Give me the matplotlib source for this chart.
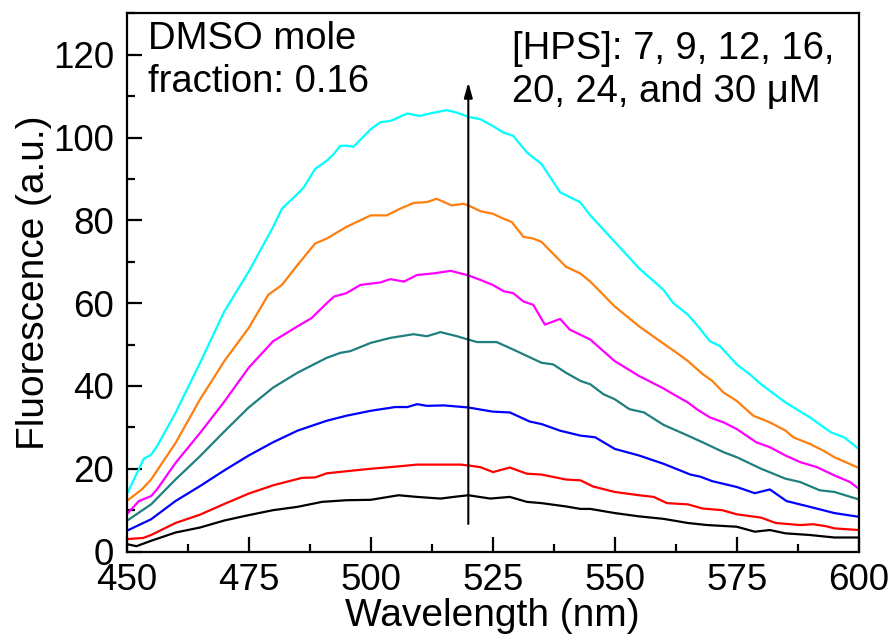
import numpy as np
import matplotlib
matplotlib.use("Agg")
import matplotlib.pyplot as plt
from matplotlib.ticker import MultipleLocator

plt.rcParams['font.family'] = ['Liberation Sans', 'DejaVu Sans']

# Emission spectra, one pair of lists per [HPS]
wl_7 = [450, 452, 455, 460, 465, 470, 475, 480, 485, 490, 495, 500, 502.6, 505.7, 509.5, 514.3, 517.7, 520,
        524.5, 528.5, 532, 535, 540, 543, 545, 550, 555, 560, 565, 569, 575, 578.7, 581.8, 585, 590, 595, 600]
f_7 = [1.8, 1.3, 2.6, 4.6, 5.8, 7.5, 8.8, 10.0, 10.8, 12.0, 12.4, 12.5, 13.0, 13.6, 13.2, 12.8, 13.3, 13.6,
       12.8, 13.2, 12.0, 11.7, 10.9, 10.3, 10.3, 9.3, 8.5, 7.9, 6.9, 6.4, 6.0, 4.8, 5.2, 4.4, 4.0, 3.4, 3.4]

wl_9 = [450, 453.4, 455, 460, 465, 470, 475, 480, 485.9, 488.6, 491, 495, 500, 505, 509.5, 515, 518.4, 520,
        522.4, 525.1, 528.5, 532, 535, 540, 543, 545.6, 550, 555, 558, 560.7, 565, 568, 572, 575, 580, 583,
        588, 590.7, 593.4, 595, 600]
f_9 = [3.0, 3.3, 4.0, 6.9, 8.9, 11.5, 14.0, 16.0, 17.8, 17.9, 18.9, 19.4, 20.0, 20.5, 21.0, 21.0, 21.0, 20.8,
       20.4, 19.2, 20.3, 18.8, 18.6, 17.4, 17.2, 15.7, 14.4, 13.6, 13.2, 11.7, 11.4, 10.4, 10.0, 9.0, 8.2, 6.9,
       6.4, 6.6, 6.1, 5.6, 5.2]

wl_12 = [450, 455, 460, 465, 470, 475, 480, 485, 491, 495, 500, 505, 507.5, 509.5, 511.5, 515, 520, 525,
         528.5, 532.6, 535, 538.8, 543, 546, 550, 555, 560, 563.4, 565.5, 567.5, 570, 575, 578.7, 581.8,
         585.2, 590, 595, 600]
f_12 = [5.0, 7.8, 12.2, 15.8, 19.6, 23.2, 26.4, 29.2, 31.6, 32.8, 34.0, 34.9, 34.9, 35.6, 35.2, 35.3, 34.8, 33.8,
        33.6, 31.4, 30.8, 29.2, 28.0, 27.6, 24.8, 23.2, 21.2, 19.6, 18.6, 18.1, 17.0, 15.6, 14.1, 15.0,
        12.2, 10.8, 9.3, 8.4]

wl_16 = [450, 455, 460, 465, 470, 475, 480, 485, 491, 493.8, 495.8, 500, 504, 508.8, 511.5, 514.3, 517.7, 520,
         521.8, 525.8, 529.2, 535, 537.4, 540, 543, 545, 547.7, 550, 553, 556, 560, 562.7, 565, 568, 572.3,
         575, 580, 585, 588, 592, 595, 600]
f_16 = [7.4, 11.4, 17.4, 23.0, 29.0, 34.8, 39.6, 43.2, 46.8, 48.0, 48.4, 50.4, 51.6, 52.5, 52.0, 53.0, 52.0, 51.2,
        50.6, 50.6, 48.8, 45.6, 45.2, 43.2, 41.2, 40.4, 38.0, 36.8, 34.4, 33.6, 30.6, 29.2, 28.0, 26.4, 24.0,
        22.8, 20.0, 17.6, 16.8, 14.8, 14.4, 12.6]

wl_20 = [450, 452.5, 455, 456.2, 460, 465, 470, 475, 480, 485, 487.9, 491, 492.5, 495, 497.9, 502, 504, 506.8,
         509.5, 513, 516.4, 520, 522.5, 525, 527.2, 529.2, 531.3, 533.3, 535.7, 538.8, 540.8, 545, 550, 555,
         560, 562, 565, 566.8, 569.5, 572.3, 575, 579, 581.8, 585, 588, 591.4, 595, 598.2, 600]
f_20 = [9.0, 12.2, 13.4, 15.0, 21.4, 28.6, 36.2, 44.4, 50.8, 54.4, 56.4, 60.0, 61.6, 62.4, 64.4, 65.0, 65.8, 65.2,
        66.8, 67.2, 67.8, 66.7, 65.6, 64.4, 62.9, 62.4, 60.4, 59.6, 54.8, 56.2, 53.6, 51.2, 46.0, 42.4,
        39.4, 38.0, 36.0, 34.4, 32.4, 31.2, 29.6, 26.4, 25.2, 23.2, 21.6, 20.4, 18.4, 16.8, 15.2]

wl_24 = [450, 453.1, 455, 460, 465, 470, 475, 479, 481.8, 485, 488.6, 491, 495, 500, 503.3, 506, 508.8, 511.5,
         513.5, 516.6, 519, 520, 522.5, 525, 527.2, 528.9, 531.3, 533.3, 535, 540, 542.9, 545, 550, 555,
         559.3, 562.7, 565, 568.1, 570, 572.3, 575, 578.4, 581.8, 585, 586.6, 590, 592.7, 595, 600]
f_24 = [12.2, 15.0, 17.4, 26.2, 36.7, 46.0, 54.0, 62.0, 64.4, 69.2, 74.4, 75.6, 78.4, 81.2, 81.2, 82.8, 84.2, 84.4,
        85.2, 83.6, 84.0, 83.6, 82.2, 81.6, 80.4, 79.6, 76.0, 75.6, 74.8, 68.8, 67.2, 65.2, 59.2, 54.4,
        50.8, 48.0, 46.0, 42.8, 41.2, 38.4, 36.4, 32.8, 31.2, 29.2, 27.6, 26.0, 24.4, 22.8, 20.2]

wl_30 = [450, 451.8, 453.5, 455, 456.2, 460, 465, 470, 475, 480, 481.8, 485, 486.3, 488.6, 491, 492.4, 493.8,
         495, 496.5, 500, 502, 504, 505, 507.5, 510, 512.9, 515.6, 517.7, 520, 522.5, 525, 527.2, 529.2, 532,
         535, 538.8, 540.8, 542.9, 545, 550, 555, 560, 562, 565, 566.8, 569.5, 571.6, 575, 577.7, 580, 585,
         590, 594.3, 597, 600]
f_30 = [13.8, 18.2, 22.4, 23.4, 25.4, 33.5, 45.5, 58.0, 67.6, 78.4, 82.8, 86.4, 88.0, 92.4, 94.4, 96.0, 98.0,
        98.0, 97.8, 102.0, 103.7, 104.0, 104.5, 105.8, 105.2, 106.0, 106.6, 106.0, 105.0, 104.4, 102.8, 101.2,
        100.4, 96.4, 93.6, 86.8, 85.6, 84.4, 81.2, 74.8, 68.4, 63.2, 60.0, 57.2, 54.8, 50.8, 49.6, 45.2, 42.8,
        40.4, 36.0, 32.4, 28.8, 27.6, 24.8]

series = [(wl_7, f_7, "black"), (wl_9, f_9, "#ff0000"), (wl_12, f_12, "#0000ff"),
          (wl_16, f_16, "#1f7f7f"), (wl_20, f_20, "#ff00ff"), (wl_24, f_24, "#ff7f0e"),
          (wl_30, f_30, "#00ffff")]

fig = plt.figure(figsize=(8.96, 6.43), dpi=100)
ax = fig.add_axes([0.1414, 0.1422, 0.8170, 0.8371])

for wl, f, c in series:
    ax.plot(wl, f, color=c, lw=1.6)

# arrow showing increasing [HPS]
ax.annotate("", xy=(520, 114), xytext=(520, 6),
            arrowprops=dict(arrowstyle="-|>,head_length=0.9,head_width=0.25", color="black", lw=1.5))

ax.set_xlim(450, 600)
ax.set_ylim(0, 130)
ax.xaxis.set_major_locator(MultipleLocator(25))
ax.xaxis.set_minor_locator(MultipleLocator(12.5))
ax.yaxis.set_major_locator(MultipleLocator(20))
ax.yaxis.set_minor_locator(MultipleLocator(10))
ax.tick_params(which="both", direction="in", top=False, right=False, width=1.6, labelsize=26.5)
ax.tick_params(which="major", length=11, pad=9)
ax.tick_params(axis="x", which="major", pad=8)
ax.tick_params(which="minor", length=6)
for s in ax.spines.values():
    s.set_linewidth(1.6)

ax.set_xlabel("Wavelength (nm)", fontsize=28, labelpad=0)
ax.set_ylabel("Fluorescence (a.u.)", fontsize=28, labelpad=1)

ax.text(0.029, 0.985, "DMSO mole\nfraction: 0.16", transform=ax.transAxes,
        fontsize=27.5, va="top", ha="left", linespacing=1.25)
ax.text(0.526, 0.968, "[HPS]: 7, 9, 12, 16,\n20, 24, and 30 \u03bcM", transform=ax.transAxes,
        fontsize=27.5, va="top", ha="left", linespacing=1.25)

fig.savefig("out.png", dpi=100)
